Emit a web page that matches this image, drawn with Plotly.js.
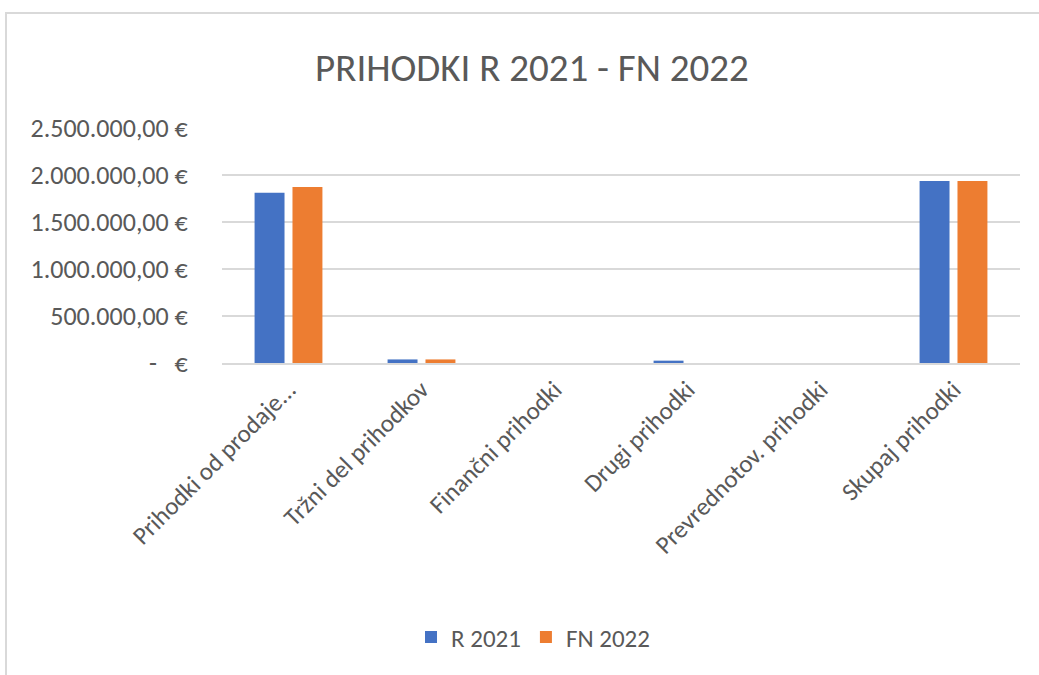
<!DOCTYPE html>
<html>
<head>
<meta charset="utf-8">
<script src="https://cdn.plot.ly/plotly-3.0.1.min.js"></script>
<style>
  html, body { margin: 0; padding: 0; background: #fff; }
  #wrap { position: relative; width: 1039px; height: 675px; overflow: hidden; }
  #chart { width: 1039px; height: 675px; }
  #frame { position: absolute; left: 5px; top: 12px; width: 1040px; height: 700px;
           border-top: 2px solid #d9d9d9; border-left: 2px solid #d9d9d9; pointer-events: none; }
</style>
</head>
<body>
<div id="wrap">
  <div id="chart"></div>
  <div id="frame"></div>
</div>
<script>
const categories = ["Prihodki od prodaje...", "Tržni del prihodkov", "Finančni prihodki", "Drugi prihodki", "Prevrednotov. prihodki", "Skupaj prihodki"];
const seriesNames = ["R 2021", "FN 2022"];
const r2021 = [1810000, 38000, 0, 25000, 0, 1936000];
const fn2022 = [1872000, 38000, 0, 0, 0, 1935000];
const yTickVals = [0, 500000, 1000000, 1500000, 2000000, 2500000];
const yTickText = ["-\u00a0\u00a0\u00a0€", "500.000,00 €", "1.000.000,00 €", "1.500.000,00 €", "2.000.000,00 €", "2.500.000,00 €"];

const FONT = "Carlito, Calibri, Lato, 'Open Sans', sans-serif";
const GREY = "#595959";

const traces = [
  { type: "bar", name: seriesNames[0], x: categories, y: r2021, marker: { color: "#4472c4" }, hoverinfo: "x+y" },
  { type: "bar", name: seriesNames[1], x: categories, y: fn2022, marker: { color: "#ed7d31" }, hoverinfo: "x+y" }
];

const layout = {
  width: 1039, height: 675,
  paper_bgcolor: "rgba(0,0,0,0)", plot_bgcolor: "rgba(0,0,0,0)",
  margin: { l: 222, r: 19, t: 128, b: 312 },
  font: { family: FONT, color: GREY },
  title: { text: "PRIHODKI R 2021 - FN 2022", font: { family: FONT, size: 39, color: GREY }, x: 0.512, xref: "container", xanchor: "center", y: 0.9, yanchor: "middle", yref: "container" },
  barmode: "group", bargap: 0.43, bargroupgap: 0.21,
  xaxis: {
    type: "category", tickangle: -45, tickfont: { family: FONT, size: 25, color: GREY },
    showgrid: false, showline: true, linecolor: "#d9d9d9", linewidth: 2, ticks: "", ticklen: 0
  },
  yaxis: {
    range: [0, 2500000], tickvals: yTickVals, ticktext: yTickText,
    tickfont: { family: FONT, size: 26, color: GREY },
    showgrid: true, gridcolor: "#d9d9d9", gridwidth: 2, zeroline: false, showline: false,
    ticks: "outside", ticklen: 28, tickcolor: "rgba(0,0,0,0)"
  },
  showlegend: true,
  legend: { orientation: "h", x: 0.513, xref: "container", xanchor: "center", y: 0.056, yref: "container", yanchor: "middle",
            font: { family: FONT, size: 25, color: GREY }, itemwidth: 30, traceorder: "normal" }
};

Plotly.newPlot("chart", traces, layout, { displayModeBar: false, staticPlot: true });
</script>
</body>
</html>
